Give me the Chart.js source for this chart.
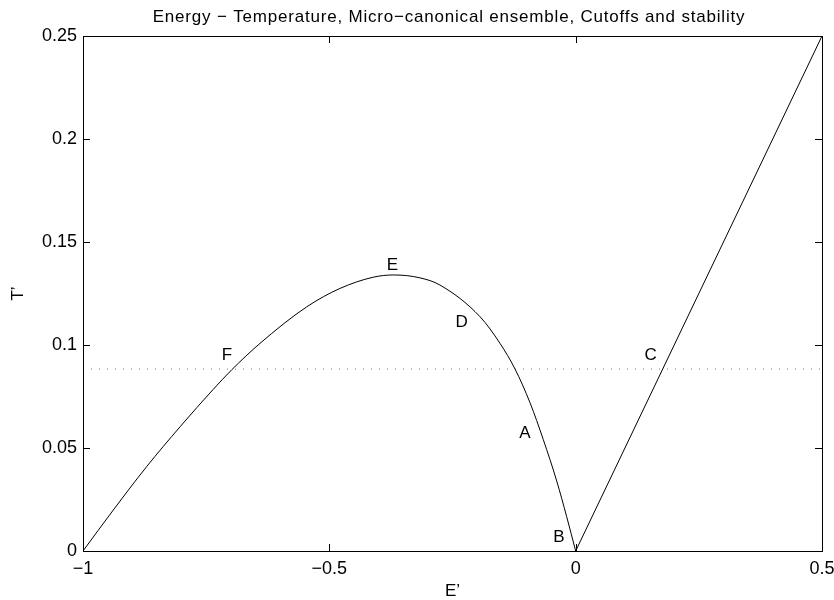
<!DOCTYPE html>
<html>
<head>
<meta charset="utf-8">
<script src="https://cdn.jsdelivr.net/npm/chart.js@4/dist/chart.umd.min.js"></script>
<style>
  html, body { margin: 0; padding: 0; background: #fff; }
  #wrap { width: 834px; height: 600px; }
</style>
</head>
<body>
<div id="wrap"><canvas id="etChart" width="834" height="600"></canvas></div>
<script>
// ---- data ----
const titleText = "Energy \u2212 Temperature, Micro\u2212canonical ensemble, Cutoffs and stability";

// left branch, E' < 0
const curveE = [-1, -0.9385, -0.871, -0.803, -0.7355, -0.698, -0.6407, -0.546, -0.478, -0.411, -0.37, -0.316, -0.2754, -0.194, -0.1536, -0.123, -0.0927, -0.0656, -0.0385, -0.0183, 0];
const curveT = [0, 0.0199, 0.0409, 0.0603, 0.0785, 0.088, 0.1008, 0.1185, 0.1275, 0.1329, 0.134, 0.1326, 0.1291, 0.1137, 0.1008, 0.0883, 0.072, 0.054, 0.034, 0.0167, 0];

// right branch, straight line
const lineE = [0, 0.5];
const lineT = [0, 0.25];

// dotted cutoff level
const cutoffE = [-1, 0.5];
const cutoffT = [0.0883, 0.0883];

// point labels
const markNames = ["E", "D", "F", "C", "A", "B"];
const markE = [-0.372, -0.2315, -0.708, 0.1523, -0.1028, -0.0338];
const markT = [0.1388, 0.1108, 0.0951, 0.0951, 0.0571, 0.0066];

// axes
const xTicks = [-1, -0.5, 0, 0.5];
const yTicks = [0, 0.05, 0.1, 0.15, 0.2, 0.25];

const toPts = (xs, ys) => xs.map((x, i) => ({ x: x, y: ys[i] }));
const fmt = v => String(v).replace("-", "\u2212");

Chart.defaults.font.family = "'Liberation Sans', Arial, Helvetica, sans-serif";
Chart.defaults.color = "#000";

// box, inward ticks, letters and title (MATLAB look)
const matlabFrame = {
    id: "matlabFrame",
    afterDatasetsDraw(chart) {
        const { ctx, chartArea: a, scales: { x, y } } = chart;
        ctx.save();
        ctx.strokeStyle = "#000";
        ctx.lineWidth = 1;
        ctx.strokeRect(Math.round(a.left) + 0.5, Math.round(a.top) + 0.5,
                       Math.round(a.right - a.left), Math.round(a.bottom - a.top));

        ctx.beginPath();
        xTicks.forEach(v => {
            const px = Math.round(x.getPixelForValue(v)) + 0.5;
            ctx.moveTo(px, a.bottom); ctx.lineTo(px, a.bottom - 7);
            ctx.moveTo(px, a.top); ctx.lineTo(px, a.top + 7);
        });
        yTicks.forEach(v => {
            const py = Math.round(y.getPixelForValue(v)) + 0.5;
            ctx.moveTo(a.left, py); ctx.lineTo(a.left + 7, py);
            ctx.moveTo(a.right, py); ctx.lineTo(a.right - 7, py);
        });
        ctx.stroke();

        ctx.fillStyle = "#000";
        ctx.font = "17px 'Liberation Sans', Arial, sans-serif";
        ctx.textAlign = "center";
        ctx.textBaseline = "middle";
        markNames.forEach((n, i) => {
            ctx.fillText(n, x.getPixelForValue(markE[i]), y.getPixelForValue(markT[i]));
        });

        ctx.letterSpacing = "0.8px";
        ctx.fillText(titleText, 449, 17.5);
        ctx.restore();
    }
};

new Chart(document.getElementById("etChart"), {
    type: "scatter",
    data: {
        datasets: [
            {
                data: toPts(curveE, curveT),
                showLine: true,
                borderColor: "#000",
                borderWidth: 1,
                pointRadius: 0,
                cubicInterpolationMode: "monotone"
            },
            {
                data: toPts(lineE, lineT),
                showLine: true,
                borderColor: "#000",
                borderWidth: 1,
                pointRadius: 0
            },
            {
                data: toPts(cutoffE, cutoffT),
                showLine: true,
                borderColor: "#777",
                borderWidth: 1,
                borderDash: [1, 7],
                pointRadius: 0
            }
        ]
    },
    options: {
        responsive: false,
        animation: false,
        events: [],
        layout: { padding: { top: 36, right: 12, left: 0, bottom: 0 } },
        plugins: {
            legend: { display: false },
            tooltip: { enabled: false }
        },
        scales: {
            x: {
                type: "linear",
                min: -1,
                max: 0.5,
                afterBuildTicks: s => { s.ticks = xTicks.map(v => ({ value: v })); },
                afterFit: s => { s.height = 49; s.paddingLeft = 0; s.paddingRight = 0; },
                grid: { display: false, drawTicks: false },
                border: { display: false },
                ticks: {
                    padding: 7,
                    maxRotation: 0,
                    font: { size: 18 },
                    callback: v => fmt(v)
                },
                title: {
                    display: true,
                    text: "E\u2019",
                    font: { size: 17, lineHeight: 1 },
                    padding: { top: 0, bottom: 0 }
                }
            },
            y: {
                type: "linear",
                min: 0,
                max: 0.25,
                afterBuildTicks: s => { s.ticks = yTicks.map(v => ({ value: v })); },
                afterFit: s => { s.width = 83; s.paddingTop = 0; s.paddingBottom = 0; },
                grid: { display: false, drawTicks: false },
                border: { display: false },
                ticks: {
                    padding: 6,
                    font: { size: 18 },
                    callback: v => fmt(v)
                },
                title: {
                    display: true,
                    text: "T\u2019",
                    font: { size: 17, lineHeight: 1 },
                    padding: { top: 10, bottom: 0 }
                }
            }
        }
    },
    plugins: [matlabFrame]
});
</script>
</body>
</html>
